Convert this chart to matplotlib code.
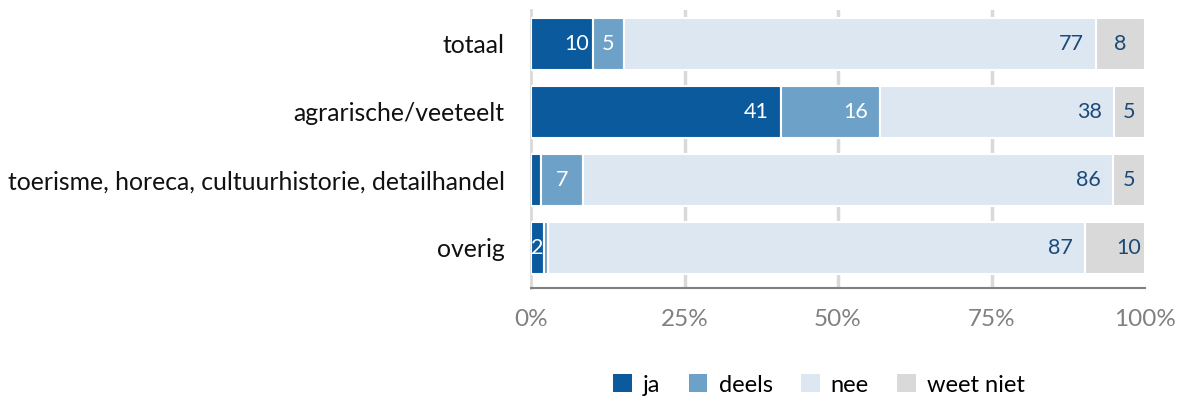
import matplotlib
matplotlib.use("Agg")
import matplotlib.pyplot as plt
import numpy as np
from matplotlib.patches import Patch

categories = ["totaal", "agrarische/veeteelt",
              "toerisme, horeca, cultuurhistorie, detailhandel", "overig"]
series = ["ja", "deels", "nee", "weet niet"]
ja = [10.1, 40.7, 1.6, 2.1]
deels = [5.0, 16.1, 6.8, 0.7]
nee = [76.9, 38.1, 86.4, 87.4]
weet_niet = [8.0, 5.1, 5.2, 9.8]
xticks = [0, 25, 50, 75, 100]
xticklabels = ["0%", "25%", "50%", "75%", "100%"]

colors = ["#0b5a9e", "#6ea1c8", "#dce7f2", "#d9d9d9"]
label_colors = ["white", "white", "#1b4a78", "#1b4a78"]

FONT = ["Lato", "DejaVu Sans"]
plt.rcParams["font.family"] = FONT

fig = plt.figure(figsize=(11.9, 4.03), dpi=100)
ax = fig.add_axes([531/1190, 1-288/403, (1145-531)/1190, (288-10)/403])

data = [ja, deels, nee, weet_niet]
y = np.arange(len(categories))
left = np.zeros(len(categories))
px_per_unit = (1145-531)/100.0
for si, vals in enumerate(data):
    vals = np.array(vals)
    ax.barh(y, vals, left=left, height=0.765, color=colors[si],
            edgecolor="white", linewidth=1.5, zorder=3, label=series[si])
    for i, v in enumerate(vals):
        if v < 2:
            continue
        w_px = v * px_per_unit
        txt = str(int(round(v)))
        if w_px < 50:
            xpos = left[i] + v/2
            ha = "center"
        elif w_px < 75:
            xpos = left[i] + v - 4/px_per_unit
            ha = "right"
        else:
            xpos = left[i] + v - 12/px_per_unit
            ha = "right"
        ax.text(xpos, y[i], txt, ha=ha, va="center", fontsize=15.5,
                color=label_colors[si], zorder=4)
    left = left + vals

ax.set_xlim(0, 100)
ax.set_ylim(3.59, -0.5)
ax.set_yticks(y)
ax.set_yticklabels(categories, fontsize=17.8, color="#111111")
ax.set_xticks(xticks)
ax.set_xticklabels(xticklabels, fontsize=17.5, color="#808080")
ax.tick_params(axis="y", length=0, pad=19)
ax.tick_params(axis="x", length=0, pad=15)
for x in xticks[1:-1]:
    ax.axvline(x, color="#d9d9d9", linewidth=2.5, zorder=1)
for s in ["top", "right"]:
    ax.spines[s].set_visible(False)
ax.spines["left"].set_color("#d9d9d9")
ax.spines["left"].set_linewidth(2)
ax.spines["bottom"].set_color("#808080")
ax.spines["bottom"].set_linewidth(1.5)

handles = [Patch(facecolor=c, edgecolor="none") for c in colors]
fig.legend(handles, series, loc="center", bbox_to_anchor=(819/1190, 1-385/403),
           ncol=4, frameon=False, fontsize=17, handlelength=0.8,
           handleheight=0.8, columnspacing=1.2, handletextpad=0.47)

fig.savefig("out.png", dpi=100)
